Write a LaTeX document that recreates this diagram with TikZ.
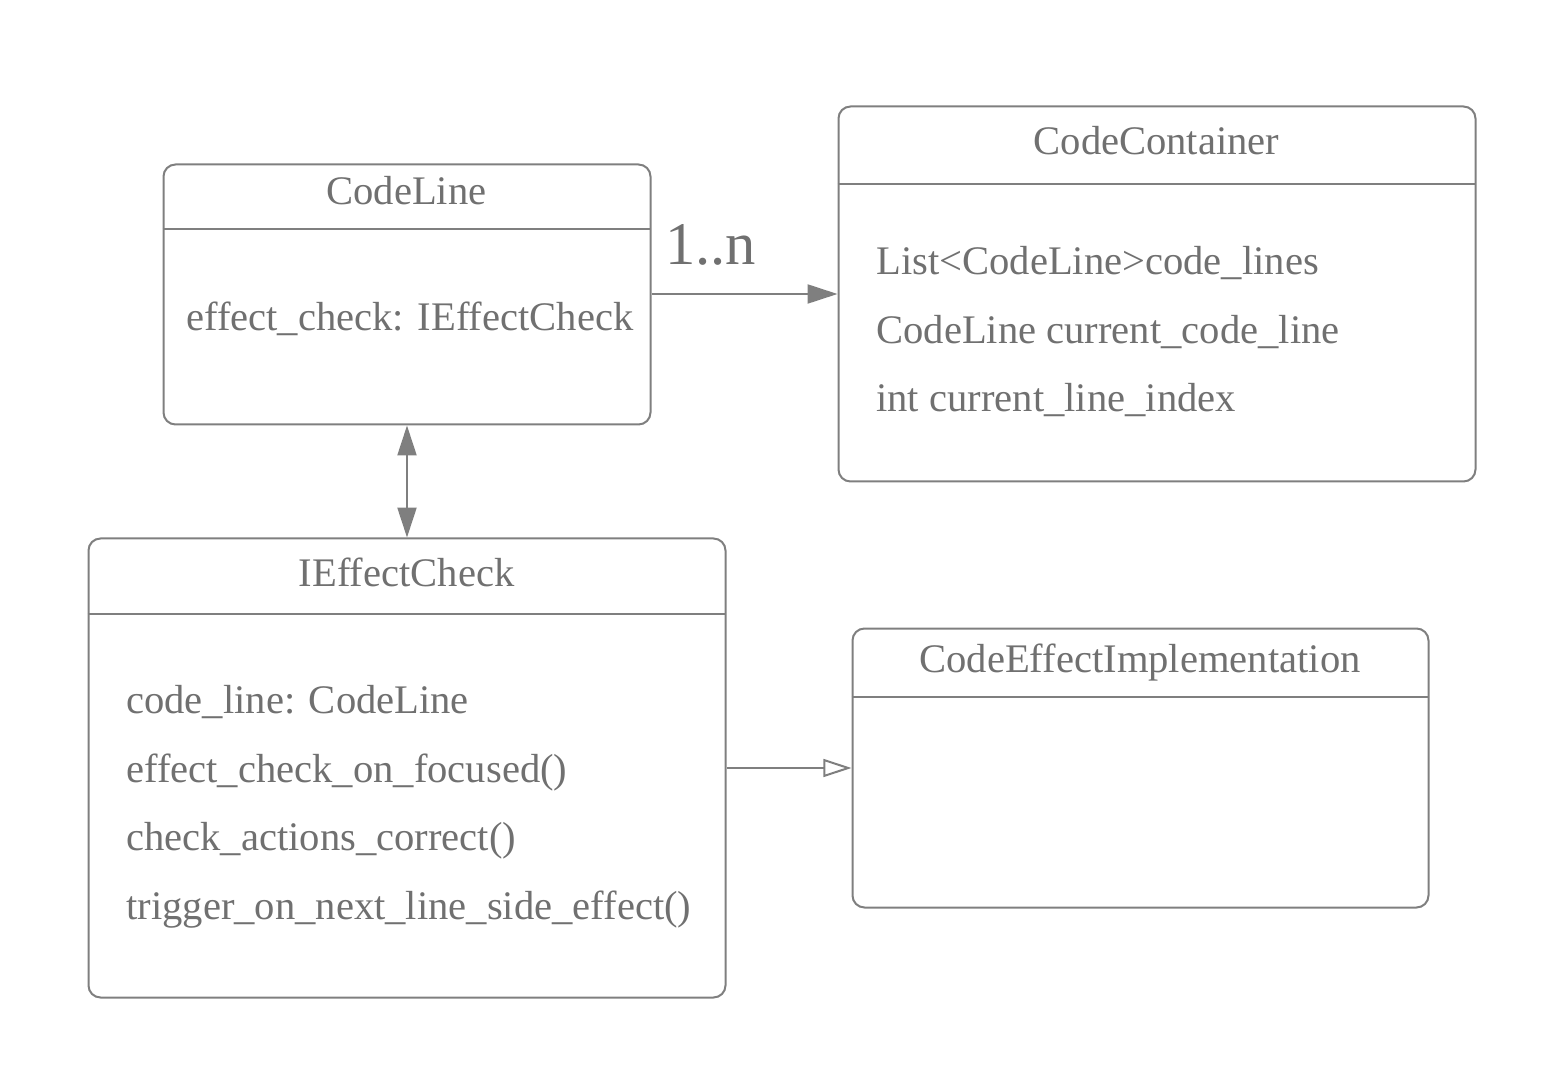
\documentclass[tikz,border=0pt]{standalone}
\usepackage{fontspec}
\setmainfont{Liberation Serif}
\usetikzlibrary{arrows.meta}
\newlength\px
\setlength\px{0.02cm}
\definecolor{lc}{HTML}{7F7F7F}
\definecolor{tc}{HTML}{707070}
\tikzset{
  umlbox/.style={draw=lc, line width=2\px, rounded corners=12\px, anchor=north west, inner sep=0pt},
  sepline/.style={draw=lc, line width=2\px},
  conn/.style={draw=lc, line width=2\px},
  title/.style={text=tc, anchor=base, inner sep=0pt, font=\fontsize{23.1}{27}\selectfont},
  attr/.style={text=tc, anchor=base west, inner sep=0pt, font=\fontsize{23.1}{27}\selectfont},
  mult/.style={text=tc, anchor=base west, inner sep=0pt, font=\fontsize{34.5}{40}\selectfont}
}
\begin{document}
\begin{tikzpicture}[x=0.02cm, y=-0.02cm]
\useasboundingbox (0,0) rectangle (1566,1084);
% CodeLine
\node[umlbox, minimum width=487\px, minimum height=260\px] (cl) at (162.5,163.5) {};
\draw[sepline] (162.5,229) -- (649.5,229);
\node[title] (clt) at (406.5,205) {CodeLine};
\node[attr] (cla) at (186,331) {effect\_check: IEffectCheck};
% CodeContainer
\node[umlbox, minimum width=637\px, minimum height=375\px] (cc) at (837.5,105.5) {};
\draw[sepline] (837.5,184) -- (1474.5,184);
\node[title] (cct) at (1156.5,155) {CodeContainer};
\node[attr] (cca) at (876,275) {List<CodeLine>code\_lines};
\node[attr] (ccb) at (876,344) {CodeLine current\_code\_line};
\node[attr] (ccc) at (876,412) {int current\_line\_index};
% IEffectCheck
\node[umlbox, minimum width=637\px, minimum height=459\px] (ie) at (87.5,537.5) {};
\draw[sepline] (87.5,614) -- (724.5,614);
\node[title] (iet) at (406.5,586) {IEffectCheck};
\node[attr] (iea) at (126,713) {code\_line: CodeLine};
\node[attr] (ieb) at (126,782) {effect\_check\_on\_focused()};
\node[attr] (iec) at (126,850) {check\_actions\_correct()};
\node[attr] (ied) at (126,919) {trigger\_on\_next\_line\_side\_effect()};
% CodeEffectImplementation
\node[umlbox, minimum width=576\px, minimum height=279\px] (ce) at (851.5,627.5) {};
\draw[sepline] (851.5,697) -- (1427.5,697);
\node[title] (cet) at (1140,672) {CodeEffectImplementation};
% connectors
\coordinate (a1) at (650,294);
\draw[conn, -{Triangle[length=17pt, width=10.8pt]}] (cl.east |- a1) -- (cc.west |- a1);
\node[mult] (m) at (665,265) {1..n};
\draw[conn, {Triangle[length=17pt, width=10.8pt]}-{Triangle[length=17pt, width=10.8pt]}] (cl.south) -- (ie.north);
\coordinate (a2) at (725,768);
\draw[conn, -{Triangle[open, length=16pt, width=10.2pt]}] (ie.east |- a2) -- (ce.west |- a2);
\end{tikzpicture}
\end{document}
